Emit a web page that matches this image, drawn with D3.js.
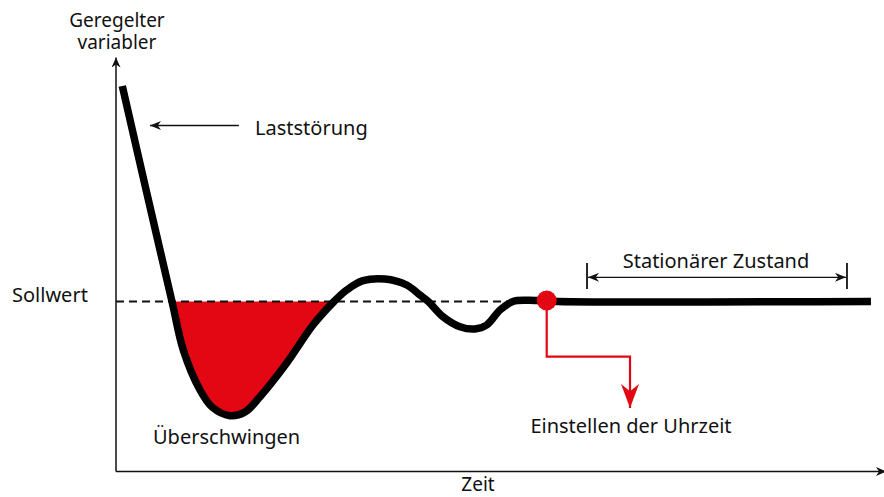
<!DOCTYPE html>
<html>
<head>
<meta charset="utf-8">
<script src="https://cdn.jsdelivr.net/npm/d3@7"></script>
<style>
  html, body { margin: 0; padding: 0; background: #fff; }
  svg text { font-family: "Noto Sans", "Open Sans", sans-serif; fill: #111; }
</style>
</head>
<body>
<svg id="chart" width="884" height="497"></svg>
<script>
// ---- data ----
const time  = [0.82, 4.01, 7.29, 8.76, 10.94, 12.5, 14.84, 16.8, 18.75, 22.23, 25.65, 28.39, 30.04, 32.16, 35.03, 37.85, 39.58, 40.66, 42.58, 44.79, 46.74, 48.27, 50.0, 51.69, 53.48, 54.95, 57.5, 98.3];
const value = [21.55, 10.85, 0, -4.85, -8.85, -10.55, -11.42, -11.05, -9.52, -6.15, -2.35, 0, 1.15, 2.08, 2.25, 1.65, 0.65, 0, -1.52, -2.52, -2.75, -2.35, -0.85, 0, 0.12, 0.1, 0, 0];
const setpoint = 0;
const overshootRange = [7.29, 28.39];
const settlePoint = {t: 56.08, v: 0};
const settleCallout = [[56.08, 0], [56.08, -5.52], [66.93, -5.52], [66.93, -10.65]];
const steadyRange = [61.33, 95.18];
const disturbanceArrow = [16.0, 4.43];
const labels = {
  yTitle: ["Geregelter", "variabler"],
  xTitle: "Zeit",
  setpoint: "Sollwert",
  disturbance: "Laststörung",
  overshoot: "Überschwingen",
  steady: "Stationärer Zustand",
  settle: "Einstellen der Uhrzeit"
};

// ---- scales ----
const x = d3.scaleLinear().domain([0, 100]).range([116, 884]);
const y = d3.scaleLinear().domain([-17, 24.4]).range([471.5, 57.5]);
const RED = "#e30613";
const curve = d3.curveCatmullRom.alpha(0.5);

const svg = d3.select("#chart");
const defs = svg.append("defs");

function marker(id, color, len, wid) {
  defs.append("marker")
    .attr("id", id)
    .attr("viewBox", `0 0 ${len} ${wid}`)
    .attr("refX", len).attr("refY", wid / 2)
    .attr("markerWidth", len).attr("markerHeight", wid)
    .attr("markerUnits", "userSpaceOnUse")
    .attr("orient", "auto-start-reverse")
    .append("path")
    .attr("d", `M0,0 L${len},${wid/2} L0,${wid} L${len*0.3},${wid/2} Z`)
    .attr("fill", color);
}
marker("arrBlack", "#111", 11, 9);
marker("arrAxis", "#111", 10, 9);
marker("arrRed", RED, 24, 18);

const pts = time.map((t, i) => ({t, v: value[i]}));

// ---- axes ----
svg.append("line")
  .attr("x1", x(0)).attr("x2", x(0))
  .attr("y1", y(-17)).attr("y2", y(24.4))
  .attr("stroke", "#111").attr("stroke-width", 1.5)
  .attr("marker-end", "url(#arrAxis)");
svg.append("line")
  .attr("x1", x(0)).attr("x2", x(100) + 2)
  .attr("y1", y(-17)).attr("y2", y(-17))
  .attr("stroke", "#111").attr("stroke-width", 1.5)
  .attr("marker-end", "url(#arrAxis)");

// ---- overshoot area ----
const fillPts = pts.filter(d => d.t >= overshootRange[0] && d.t <= overshootRange[1]);
svg.append("path")
  .datum(fillPts)
  .attr("d", d3.area().curve(curve)
    .x(d => x(d.t)).y0(y(setpoint)).y1(d => y(d.v)))
  .attr("fill", RED);

// ---- setpoint dashed line ----
svg.append("line")
  .attr("x1", x(0)).attr("x2", x(settlePoint.t))
  .attr("y1", y(setpoint)).attr("y2", y(setpoint))
  .attr("stroke", "#111").attr("stroke-width", 2)
  .attr("stroke-dasharray", "8,5");

// ---- response curve ----
svg.append("path")
  .datum(pts)
  .attr("d", d3.line().curve(curve).x(d => x(d.t)).y(d => y(d.v)))
  .attr("fill", "none")
  .attr("stroke", "#000")
  .attr("stroke-width", 7.5)
  .attr("stroke-linejoin", "round");

// ---- settle callout ----
svg.append("path")
  .datum(settleCallout)
  .attr("d", d3.line().x(d => x(d[0])).y(d => y(d[1])))
  .attr("fill", "none")
  .attr("stroke", RED).attr("stroke-width", 2.2)
  .attr("marker-end", "url(#arrRed)");
svg.append("circle")
  .attr("cx", x(settlePoint.t)).attr("cy", y(settlePoint.v) - 1)
  .attr("r", 10).attr("fill", RED);

// ---- steady-state bracket ----
const bY = 2.42;
[steadyRange[0], steadyRange[1]].forEach(t => {
  svg.append("line")
    .attr("x1", x(t)).attr("x2", x(t))
    .attr("y1", y(3.85)).attr("y2", y(1.25))
    .attr("stroke", "#111").attr("stroke-width", 1.8);
});
svg.append("line")
  .attr("x1", x(steadyRange[0]) + 1).attr("x2", x(steadyRange[1]) - 1)
  .attr("y1", y(bY)).attr("y2", y(bY))
  .attr("stroke", "#111").attr("stroke-width", 1.3)
  .attr("marker-start", "url(#arrBlack)")
  .attr("marker-end", "url(#arrBlack)");

// ---- disturbance arrow ----
svg.append("line")
  .attr("x1", x(disturbanceArrow[0])).attr("x2", x(disturbanceArrow[1]))
  .attr("y1", y(17.6)).attr("y2", y(17.6))
  .attr("stroke", "#111").attr("stroke-width", 1.3)
  .attr("marker-end", "url(#arrBlack)");

// ---- texts ----
function txt(s, px, py, anchor, size) {
  svg.append("text").attr("x", px).attr("y", py)
    .attr("text-anchor", anchor || "start")
    .attr("font-size", size || 20).text(s);
}
const yt = svg.append("text").attr("x", 117).attr("y", 27)
  .attr("text-anchor", "middle").attr("font-size", 19);
yt.append("tspan").attr("x", 117).attr("y", 27).text(labels.yTitle[0]);
yt.append("tspan").attr("x", 117).attr("y", 49).text(labels.yTitle[1]);
txt(labels.setpoint, 12, 302);
txt(labels.disturbance, 255, 135);
txt(labels.overshoot, 153, 444);
txt(labels.steady, 716, 268, "middle");
txt(labels.settle, 631, 433, "middle");
txt(labels.xTitle, 478, 491, "middle", 19);
</script>
</body>
</html>
